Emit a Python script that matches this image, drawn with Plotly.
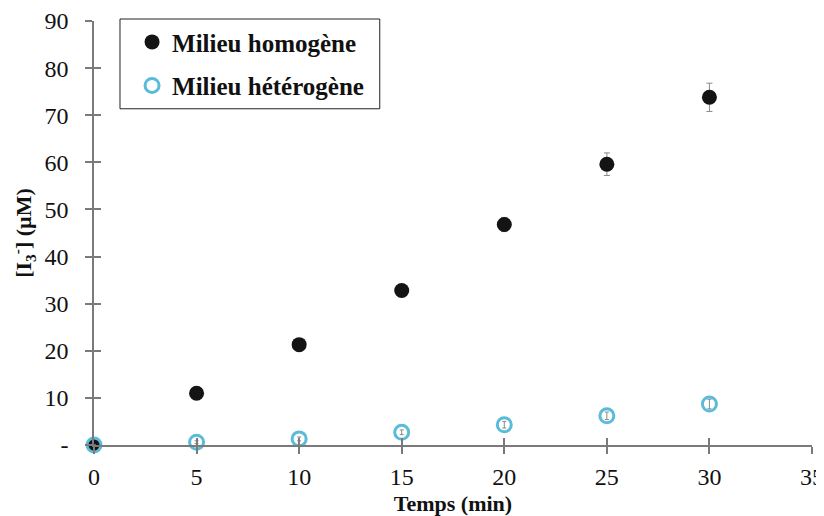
import plotly.graph_objects as go

temps = [0, 5, 10, 15, 20, 25, 30]
homogene = [0, 11.0, 21.3, 32.8, 46.8, 59.6, 73.8]
homogene_err = [0, 0.4, 0.5, 0.6, 1.5, 2.4, 3.0]
heterogene = [0, 0.6, 1.3, 2.7, 4.3, 6.2, 8.7]
heterogene_err = [0, 0.3, 0.4, 0.5, 0.7, 0.8, 1.0]
y_tickvals = [0, 10, 20, 30, 40, 50, 60, 70, 80, 90]
y_ticktext = ["-", "10", "20", "30", "40", "50", "60", "70", "80", "90"]
x_tickvals = [0, 5, 10, 15, 20, 25, 30, 35]

font_family = "Liberation Serif"
axis_color = "#7a7a7a"

fig = go.Figure()
fig.add_trace(go.Scatter(
    x=temps, y=homogene, mode="markers", name="Milieu homogène", cliponaxis=False,
    legendgroup="a",
    marker=dict(symbol="circle", size=15, color="#141414"),
    error_y=dict(type="data", array=homogene_err, color="#8a8a8a", thickness=1, width=3),
))
fig.add_trace(go.Scatter(
    x=temps, y=heterogene, mode="markers", name="Milieu hétérogène", cliponaxis=False,
    legendgroup="b",
    marker=dict(symbol="circle-open", size=14, color="#5bbcd8", line=dict(width=3, color="#5bbcd8")),
    error_y=dict(type="data", array=heterogene_err, color="#8a8a8a", thickness=1, width=2),
))
# invisible trace on overlay axes for inside ticks
fig.add_trace(go.Scatter(x=[0], y=[0], xaxis="x2", yaxis="y2", mode="markers",
                         marker=dict(opacity=0), showlegend=False, hoverinfo="skip"))

# page body has an 8px margin, so the figure is sized/offset to compensate
fig.update_layout(
    width=816, height=508,
    margin=dict(l=86, r=12, t=12, b=71),
    paper_bgcolor="white", plot_bgcolor="white",
    font=dict(family=font_family, size=24, color="#111111"),
    showlegend=True,
    legend=dict(
        x=0.053, y=1.002, xanchor="left", yanchor="top",
        bgcolor="rgba(0,0,0,0)", borderwidth=0,
        font=dict(family=font_family, size=25, color="#111111", weight="bold"),
        itemsizing="trace", tracegroupgap=8,
    ),
    shapes=[dict(type="rect", xref="paper", yref="paper",
                 x0=0.0362, x1=0.398, y0=0.793, y1=1.0047,
                 line=dict(color="#222222", width=1), fillcolor="white", layer="below")],
    xaxis=dict(
        range=[0, 35], tickvals=x_tickvals, showgrid=False, zeroline=False, automargin=False,
        showline=True, linecolor=axis_color, linewidth=1.5,
        ticks="outside", ticklen=7, tickcolor=axis_color, tickwidth=1.5,
        ticklabelstandoff=2, ticklabeloverflow="allow",
        title=dict(text="<b>Temps (min)</b>", standoff=14, font=dict(size=22)),
        tickfont=dict(size=24),
    ),
    yaxis=dict(
        range=[0, 90], tickvals=y_tickvals, ticktext=y_ticktext, showgrid=False, zeroline=False,
        automargin=False,
        showline=True, linecolor=axis_color, linewidth=1.5,
        ticks="outside", ticklen=7, tickcolor=axis_color, tickwidth=1.5,
        ticklabelstandoff=12, ticklabeloverflow="allow",
        title=dict(text="<b>[I<sub>3</sub><sup>-</sup>] (µM)</b>", standoff=8, font=dict(size=22)),
        tickfont=dict(size=24),
    ),
    xaxis2=dict(
        overlaying="x", range=[0, 35], tickvals=x_tickvals, showticklabels=False, automargin=False,
        showgrid=False, zeroline=False, ticks="inside", ticklen=7,
        tickcolor=axis_color, tickwidth=1.5, side="bottom",
    ),
    yaxis2=dict(
        overlaying="y", range=[0, 90], tickvals=y_tickvals, showticklabels=False, automargin=False,
        showgrid=False, zeroline=False, ticks="inside", ticklen=7,
        tickcolor=axis_color, tickwidth=1.5, side="left",
    ),
)

fig.write_html("out.html")
